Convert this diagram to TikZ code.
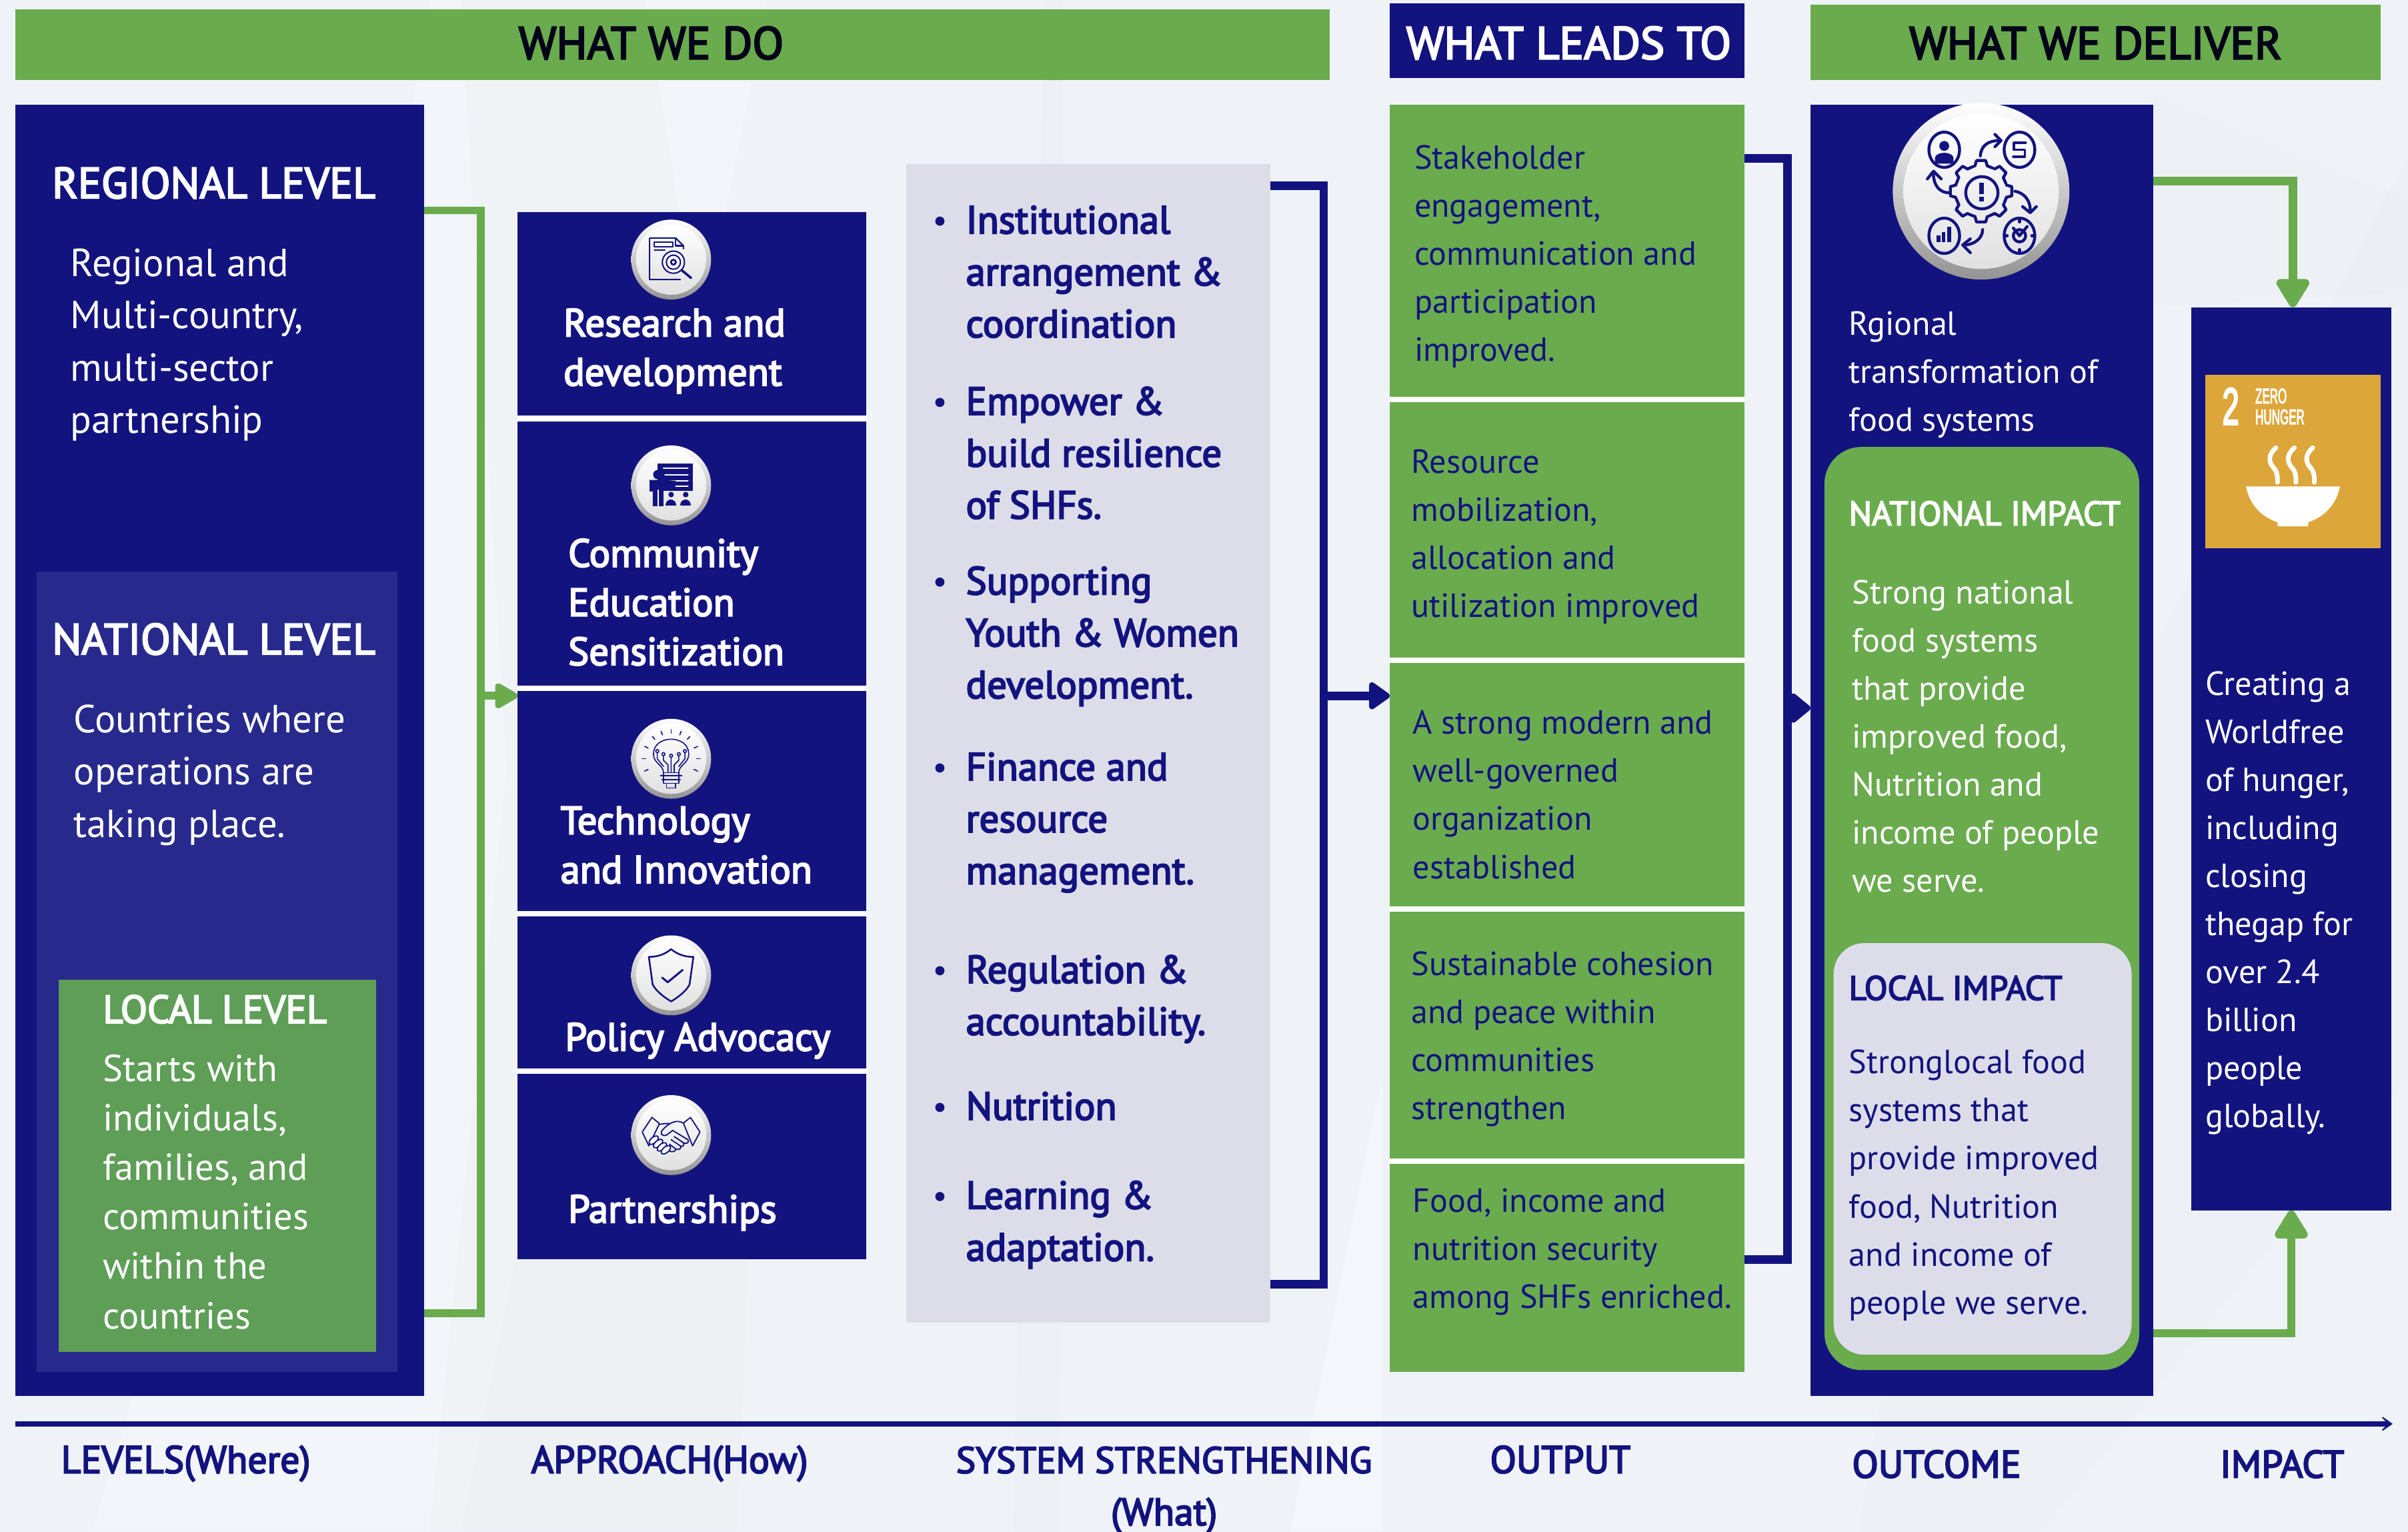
\documentclass[tikz,border=0pt]{standalone}
\usepackage{fontspec}
\usetikzlibrary{arrows.meta,calc}
\setmainfont{PT Sans}
\newfontfamily\semi[FakeBold=3.5]{PT Sans}
\newfontfamily\sdgfont[FakeBold=4]{Liberation Sans}
\definecolor{navy}{HTML}{13137F}
\definecolor{grn}{HTML}{6AAB4E}
\definecolor{localgrn}{HTML}{5E9E57}
\definecolor{panel}{HTML}{272A8C}
\definecolor{lilac}{HTML}{DDDDEA}
\definecolor{sdg}{HTML}{DDA63A}
\definecolor{bg}{HTML}{EFF3F8}
\newcommand\lnb[1]{\hbox{#1}}
\newcommand\fsz[2]{\fontsize{#1}{#2}\selectfont}
\tikzset{
  rectbox/.style={anchor=north west,inner sep=0,outer sep=0},
  headtxt/.style={font=\fsz{29.7}{32}\semi,inner sep=0},
  tt/.style={anchor=base west,inner sep=0,outer sep=0},
  lvl/.style={tt,text=white,font=\fsz{25.5}{34}},
  lvlh/.style={tt,text=white,font=\fsz{28.3}{34}\semi},
  appr/.style={tt,text=white,font=\fsz{25.5}{32}\semi},
  sys/.style={tt,text=navy,font=\fsz{25.5}{33.8}\semi},
  outp/.style={tt,text=navy,font=\fsz{21.8}{31.3}},
  outw/.style={tt,text=white,font=\fsz{21.8}{31.3}},
  imph/.style={tt,font=\fsz{22.1}{31.3}\semi},
  axis/.style={anchor=base,inner sep=0,text=navy,font=\fsz{25}{30}\semi},
  gline/.style={draw=grn,line width=5pt},
  gtip/.style={-{Triangle[length=21pt,width=24pt,round]}},
  nline/.style={draw=navy,line width=5.5pt},
  ico/.style={draw=navy,line width=0.9pt,line join=round,line cap=round},
  sep/.style={draw=white,line width=3.6pt},
}
\newcommand\icobase[3]{%
  \node[circle,inner sep=0,outer sep=0,minimum size=#3*2pt,top color=white,bottom color=black!42] (#1) at (#2) {};
  \node[circle,inner sep=0,outer sep=0,minimum size=#3*1.76pt,top color=white,bottom color=black!12] at (#2) {};
}
\begin{document}
\begin{tikzpicture}[x=1pt,y=-1pt]
\useasboundingbox (0,0) rectangle (1568,997.4);
\fill[bg] (0,0) rectangle (1568,997.4);
% paper texture
\begin{scope}
\clip (0,0) rectangle (1568,997.4);
\fill[white,opacity=.2] (60,997) -- (180,600) -- (280,0) -- (500,0) -- (300,997) -- cycle;
\fill[black!40!yellow,opacity=.02] (280,997) -- (330,500) -- (300,0) -- (420,0) -- (500,500) -- (480,997) -- cycle;
\fill[black!30,opacity=.04] (660,997) -- (680,0) -- (692,0) -- (690,997) -- cycle;
\fill[black!30,opacity=.03] (1210,997) -- (1260,700) -- (1568,100) -- (1568,700) -- (1330,997) -- cycle;
\fill[white,opacity=.3] (840,997) -- (900,700) -- (900,997) -- cycle;
\fill[black!30,opacity=.03] (1402,60) -- (1568,130) -- (1568,190) -- (1402,200) -- cycle;
\end{scope}
% headers
\node[rectbox,fill=grn,minimum width=856pt,minimum height=46pt] (h1) at (10,6) {};
\node[headtxt,text=black!80!navy] at (424,28) {WHAT WE DO};
\node[rectbox,fill=navy,minimum width=231pt,minimum height=49pt] (h2) at (905,2) {};
\node[headtxt,text=white] at (1021.5,28) {WHAT LEADS TO};
\node[rectbox,fill=grn,minimum width=371pt,minimum height=49pt] (h3) at (1179,3) {};
\node[headtxt,text=black!80!navy] at (1364.5,28) {WHAT WE DELIVER};
% LEVELS
\node[rectbox,fill=navy,minimum width=266pt,minimum height=841pt] (levels) at (10,68) {};
\node[rectbox,fill=panel,minimum width=235pt,minimum height=521pt] (natpanel) at (24,372) {};
\node[rectbox,fill=localgrn,minimum width=207pt,minimum height=242pt] (localpanel) at (38,638) {};
\node[lvlh] (t1) at (34,129) {REGIONAL LEVEL};
\node[lvl] (t2) at (46,180) {\vtop{\lnb{Regional and}\lnb{Multi-country,}\lnb{multi-sector}\lnb{partnership}}};
\node[lvlh] (t3) at (34,426) {NATIONAL LEVEL};
\node[lvl] (t4) at (48,477) {\vtop{\lnb{Countries where}\lnb{operations are}\lnb{taking place.}}};
\node[tt,text=white,font=\fsz{25.5}{32}\semi] (t5) at (67,666) {LOCAL LEVEL};
\node[tt,text=white,font=\fsz{24.5}{32.2}] (t6) at (67,704) {\vtop{\lnb{Starts with}\lnb{individuals,}\lnb{families, and}\lnb{communities}\lnb{within the}\lnb{countries}}};
% APPROACH
\node[rectbox,fill=navy,minimum width=227pt,minimum height=682pt] (approach) at (337,138) {};
\foreach \yy in {272.5,448,595,697.5} \draw[sep] (approach.west |- 0,\yy) -- (approach.east |- 0,\yy);
\node[appr] (a1) at (367,219) {\vtop{\lnb{Research and}\lnb{development}}};
\node[appr] (a2) at (370,369) {\vtop{\lnb{Community}\lnb{Education}\lnb{Sensitization}}};
\node[appr] (a3) at (365,543) {\vtop{\lnb{Technology}\lnb{and Innovation}}};
\node[appr] (a4) at (368,684) {Policy Advocacy};
\node[appr] (a5) at (370,796) {Partnerships};
% research icon
\icobase{i1}{437,169}{26}
\begin{scope}[shift={(437,169)},ico]
\draw (8,-7) -- (8,-9) -- (3,-14) -- (-14,-14) -- (-14,13) -- (6,13);
\draw (3,-14) -- (3,-9) -- (8,-9);
\draw (-11,-11.5) rectangle (1,-8.5);
\draw (-11,-6) -- (-4,-6);
\draw[fill=white] (1.5,1.7) circle (7.2);
\draw (1.5,1.7) circle (4.6);
\draw[line width=1.2pt] (1.5,1.7) circle (1.6);
\draw[line width=1.6pt] (7,7) -- (13,12);
\end{scope}
% community icon
\icobase{i2}{437,316}{26}
\begin{scope}[shift={(437,316)},ico]
\fill[navy] (-9,-14) rectangle (14,3.6);
\draw[white,line width=.8pt] (-5,-11) -- (11,-11) (-4,-7) -- (11,-7) (-1,-3) -- (11,-3) (3,0.5) -- (11,0.5);
\fill[navy] (-8.7,-7) circle (3);
\fill[navy] (-14,-3.5) -- (-5,-3.5) -- (3,-3) -- (3,-1) -- (-5,0) -- (-5,13.5) -- (-12,13.5) -- (-12,4) -- (-14,4) -- cycle;
\draw[white,line width=.6pt] (-8.5,3) -- (-8.5,13.5);
\foreach \xx in {0,9.5}{
 \fill[navy] (\xx,6) circle (1.8);
 \fill[navy] (\xx-3.5,13) .. controls (\xx-3.5,8) and (\xx+3.5,8) .. (\xx+3.5,13) -- cycle;}
\end{scope}
% bulb icon
\icobase{i3}{437,494}{26}
\begin{scope}[shift={(437,494)},ico,line width=0.7pt]
\draw (-5,9) .. controls (-5,4) and (-11.5,3) .. (-11.5,-3) .. controls (-11.5,-16) and (11.5,-16) .. (11.5,-3) .. controls (11.5,3) and (5,4) .. (5,9);
\draw (-5,9) rectangle (5,16);
\draw (-7,11) -- (7,11) (-6,13.5) -- (6,13.5);
\draw (-3,16) rectangle (3,19);
\draw (0,-1) -- (0,9) (-2,9) -- (-2,4) -- (-5,1) -- (-5,-2) (2,9) -- (2,4) -- (5,1) -- (5,-2) (-5,5) -- (-9,0) -- (-9,-4) (5,5) -- (9,0) -- (9,-4);
\foreach \xx/\yy in {0/-2,-5/-3,5/-3,-9/-5,9/-5} \draw (\xx,\yy) circle (1);
\foreach \aa in {-155,-130,-110,-90,-70,-50,-25,0,180,25,155}
  \draw (\aa:16.5) -- (\aa:19);
\end{scope}
% shield icon
\icobase{i4}{437,635}{26}
\begin{scope}[shift={(437,635)},ico,line width=1.1pt]
\draw (0,-17) .. controls (-5,-13) and (-10,-12) .. (-14.5,-12) -- (-12,6) .. controls (-10,10) and (-5,14) .. (0,17) .. controls (5,14) and (10,10) .. (12,6) -- (14.5,-12) .. controls (10,-12) and (5,-13) .. (0,-17) -- cycle;
\draw[line width=1.3pt] (-5.8,1.5) -- (-2.2,4.5) -- (7.5,-3.5);
\end{scope}
% handshake icon
\icobase{i5}{437,739}{26}
\begin{scope}[shift={(437,739)},ico,line width=0.8pt]
\draw (-18.8,-2) -- (-12.5,-11.5) -- (-7.6,-7.5) -- (-14.5,7) -- cycle;
\draw (18.8,-2) -- (12.6,-11.5) -- (8,-7.8) -- (14,7) -- cycle;
\draw (8,-7.8) .. controls (4,-10) and (0,-9) .. (-5,-4) .. controls (-8,-1) and (-6,1) .. (-3,0) -- (1,-3) -- (11,3) .. controls (12,5) and (10,6) .. (8,5);
\draw (-7.6,-7) -- (-4,-7.5) -- (-1,-7.5);
\draw (2,1) -- (8,5) .. controls (9,7) and (7,8) .. (6,7) -- (0,3) (6,7) .. controls (7,9) and (5,10) .. (3,9) -- (-1,6) (3,9) .. controls (3,11) and (1,11) .. (-1,10.5);
\foreach \xx/\yy in {-11.3/3.3,-8.5/5.5,-6/7.7,-3.4/9.6}
  \draw[rotate around={40:(\xx,\yy)},fill=white] (\xx,\yy) ellipse (3.6 and 1.9);
\end{scope}
% SYSTEM STRENGTHENING
\node[rectbox,fill=lilac,minimum width=237pt,minimum height=754pt] (system) at (590,107) {};
\foreach \yy in {144,262,379,500,632,721,779} \fill[navy] (612,\yy) circle (3);
\node[sys] (s1) at (629,152) {\vtop{\lnb{Institutional}\lnb{arrangement \&}\lnb{coordination}}};
\node[sys] (s2) at (629,270) {\vtop{\lnb{Empower \&}\lnb{build resilience}\lnb{of SHFs.}}};
\node[sys] (s3) at (629,387) {\vtop{\lnb{Supporting}\lnb{Youth \& Women}\lnb{development.}}};
\node[sys] (s4) at (629,508) {\vtop{\lnb{Finance and}\lnb{resource}\lnb{management.}}};
\node[sys] (s5) at (629,640) {\vtop{\lnb{Regulation \&}\lnb{accountability.}}};
\node[sys] (s6) at (629,729) {Nutrition};
\node[sys] (s7) at (629,787) {\vtop{\lnb{Learning \&}\lnb{adaptation.}}};
% OUTPUT
\node[rectbox,fill=grn,minimum width=231pt,minimum height=825pt] (output) at (905,68) {};
\foreach \yy in {260,430,592,756} \draw[sep] (output.west |- 0,\yy) -- (output.east |- 0,\yy);
\node[outp] (o1) at (921,110) {\vtop{\lnb{Stakeholder}\lnb{engagement,}\lnb{communication and}\lnb{participation}\lnb{improved.}}};
\node[outp] (o2) at (919,308) {\vtop{\lnb{Resource}\lnb{mobilization,}\lnb{allocation and}\lnb{utilization improved}}};
\node[outp] (o3) at (920,478) {\vtop{\lnb{A strong modern and}\lnb{well-governed}\lnb{organization}\lnb{established}}};
\node[outp] (o4) at (919,635) {\vtop{\lnb{Sustainable cohesion}\lnb{and peace within}\lnb{communities}\lnb{strengthen}}};
\node[outp] (o5) at (920,789) {\vtop{\lnb{Food, income and}\lnb{nutrition security}\lnb{among SHFs enriched.}}};
% OUTCOME
\node[rectbox,fill=navy,minimum width=223pt,minimum height=841pt] (outcome) at (1179,68) {};
\node[outw] (c1) at (1204,218) {\vtop{\lnb{Rgional}\lnb{transformation of}\lnb{food systems}}};
\node[rectbox,fill=grn,rounded corners=24pt,minimum width=205pt,minimum height=601pt] (natimp) at (1188,291) {};
\node[imph,text=white] (c2) at (1204,342) {NATIONAL IMPACT};
\node[outw] (c3) at (1206,393) {\vtop{\lnb{Strong national}\lnb{food systems}\lnb{that provide}\lnb{improved food,}\lnb{Nutrition and}\lnb{income of people}\lnb{we serve.}}};
\node[rectbox,fill=lilac,rounded corners=20pt,minimum width=194pt,minimum height=268pt] (locimp) at (1194,614) {};
\node[imph,text=navy] (c4) at (1204,651) {LOCAL IMPACT};
\node[outp] (c5) at (1204,699) {\vtop{\lnb{Stronglocal food}\lnb{systems that}\lnb{provide improved}\lnb{food, Nutrition}\lnb{and income of}\lnb{people we serve.}}};
% transformation icon
\icobase{i6}{1290,124.5}{57.5}
\begin{scope}[shift={(1290,124.5)},ico,line width=1.9pt]
\foreach \xx/\yy in {-24/-27,25/-27,-24/29,25/29} \draw (\xx,\yy) ellipse (10 and 11.5);
\fill[navy] (-24,-29.5) circle (3.2);
\fill[navy] (-30,-18) -- (-30,-22) .. controls (-29,-26) and (-19,-26) .. (-18,-22) -- (-18,-18) -- cycle;
\draw[line width=1.7pt] (29,-31.5) -- (21.5,-31.5) -- (21.5,-27) -- (28.5,-27) -- (28.5,-22.5) -- (21,-22.5);
\fill[navy] (-29,29) rectangle (-26.6,33);
\fill[navy] (-25.6,26.5) rectangle (-23.2,33);
\fill[navy] (-22,23) rectangle (-19.6,33);
\draw (25,29) circle (4);
\draw (25,20) -- (25,19) (25,38) -- (25,39) (16,29) -- (17,29) (33,29) -- (34,29);
\draw (21,24) -- (25,29) -- (30,23);
% gear
\foreach \aa in {0,45,...,315}{
  \draw[rotate=\aa] (-4,-16.5) -- (-3,-20) -- (3,-20) -- (4,-16.5);
  \draw[rotate=\aa] (4,-16.5) -- (7.8,-15);}
\draw (0.5,1) circle (10.5);
\fill[navy] (-1.1,-5.5) rectangle (2,1.8);
\fill[navy] (-1.1,3.7) rectangle (2,6.5);
% cycle arrows
\draw (-0.5,-23) .. controls (0,-30) and (5,-33) .. (12,-33);
\draw (9,-37) -- (13,-33) -- (9,-29);
\draw (22,0) .. controls (28,1) and (32,6) .. (32,12);
\draw (27,10) -- (32,14) -- (36,10);
\draw (1,25) .. controls (1,31) and (-5,35) .. (-11,35);
\draw (-7,40) -- (-12,35) -- (-7,31);
\draw (-21,1) .. controls (-27,1) and (-31,-4) .. (-31,-11);
\draw (-26,-8) -- (-31,-13) -- (-35,-8);
\end{scope}
% IMPACT
\node[rectbox,fill=navy,minimum width=130pt,minimum height=588pt] (impact) at (1427,200) {};
\node[rectbox,fill=sdg,minimum width=114pt,minimum height=113pt] (tile) at (1436,244) {};
\node[rectbox,text=white,font=\sdgfont] (sdg2) at (1447,252.7) {\resizebox*{11pt}{23.6pt}{2}};
\node[rectbox,text=white,font=\sdgfont] (sdgz) at (1468.6,253) {\resizebox*{20.4pt}{9.7pt}{ZERO}};
\node[rectbox,text=white,font=\sdgfont] (sdgh) at (1468.6,266.6) {\resizebox*{32pt}{9.7pt}{HUNGER}};
\foreach \xx in {1480,1492,1504}
  \draw[white,line width=3pt,line cap=round] (\xx+2,291.5) .. controls (\xx-3,296) and (\xx-3,300) .. (\xx,304) .. controls (\xx+3,307) and (\xx+3,310) .. (\xx+3,314);
\fill[white] (1462.5,316.7) -- (1523.7,316.7) .. controls (1521,330) and (1512,337) .. (1503,340) -- (1503,342.7) -- (1483,342.7) -- (1483,340) .. controls (1474,337) and (1465,330) .. (1462.5,316.7) -- cycle;
\node[outw] (m1) at (1436,452.5) {\vtop{\lnb{Creating a}\lnb{Worldfree}\lnb{of hunger,}\lnb{including}\lnb{closing}\lnb{thegap for}\lnb{over 2.4}\lnb{billion}\lnb{people}\lnb{globally.}}};
% connectors
\draw[gline] (levels.east |- 0,137) -| (313,855) -- (levels.east |- 0,855);
\draw[gline,-{Triangle[length=17pt,width=18pt,round]}] (313,453) -- (approach.west |- 0,453);
\draw[nline] (system.east |- 0,121) -| (862,836) -- (system.east |- 0,836);
\draw[nline,-{Triangle[length=15pt,width=20pt,round]}] (862,453) -- (output.west |- 0,453);
\draw[nline] (output.east |- 0,103) -| (1164,820) -- (output.east |- 0,820);
\draw[nline,-{Triangle[length=14pt,width=22pt,round]}] (1164,461) -- (outcome.west |- 0,461);
\draw[gline,line width=5.5pt,gtip] (outcome.east |- 0,118) -| (impact.north -| 1493,0);
\draw[gline,line width=5.5pt,gtip] (outcome.east |- 0,868) -| (impact.south -| 1492,0);
% axis
\coordinate (axs) at (10,927);
\coordinate (axe) at (1558,927);
\draw[navy,line width=3.6pt,-{Stealth[length=10pt,width=14pt,inset=7pt]}] (axs) -- (axe);
\node[axis] (x1) at (121,959) {LEVELS(Where)};
\node[axis] (x2) at (436,959) {APPROACH(How)};
\node[axis,font=\fsz{24}{30}\semi] (x3) at (758,959) {SYSTEM STRENGTHENING};
\node[axis] (x3b) at (758,993) {(What)};
\node[axis] (x4) at (1016,959) {OUTPUT};
\node[axis] (x5) at (1261,962) {OUTCOME};
\node[axis] (x6) at (1486,962) {IMPACT};
\end{tikzpicture}
\end{document}
